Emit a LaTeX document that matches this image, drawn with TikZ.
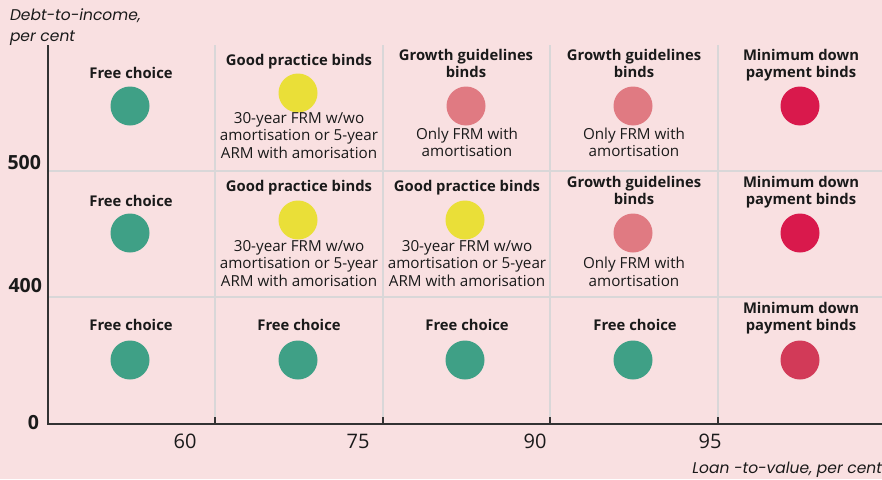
\documentclass[tikz,border=0pt]{standalone}
\usepackage{fontspec}
\setmainfont{Open Sans}
\newfontfamily\titlefont{Poppins}
\begin{document}
\definecolor{bgpink}{HTML}{F9E0E1}
\definecolor{gridgray}{HTML}{D9D7D8}
\definecolor{axisgray}{HTML}{333333}
\definecolor{txt}{HTML}{1A1A1A}
\definecolor{cgreen}{HTML}{3FA086}
\definecolor{cyellow}{HTML}{EADF38}
\definecolor{csalmon}{HTML}{E07A82}
\definecolor{ccrimson}{HTML}{D9194C}
\definecolor{cdeep}{HTML}{D23A58}
\begin{tikzpicture}[x=1pt,y=-1pt,
  every node/.style={inner sep=0pt,outer sep=0pt,text=txt},
  head/.style={anchor=base,align=center,font=\fontsize{14.8}{17}\selectfont\bfseries},
  body/.style={anchor=base,align=center,font=\fontsize{15.2}{17.5}\selectfont},
  dot/.style={circle,minimum size=39pt},
  gridline/.style={gridgray,line width=1.3pt},
  axisline/.style={axisgray,line width=2.6pt},
  tick/.style={axisgray,line width=2.2pt},
  ticklab/.style={anchor=base,font=\fontsize{20}{22}\selectfont},
  ylab/.style={anchor=base east,font=\fontsize{19.5}{22}\selectfont\bfseries},
  axtitle/.style={font=\titlefont\fontsize{15.5}{17}\selectfont\itshape}]
% background and frame of the picture
\fill[bgpink] (0,0) rectangle (882,479);
\useasboundingbox (0,0) rectangle (882,479);

% grid
\foreach \gx in {215,383,550,718}
  \draw[gridline] (\gx,45) -- (\gx,423);
\foreach \gy in {171,297}
  \draw[gridline] (49,\gy) -- (882,\gy);

% axes
\coordinate (ytop) at (48,45);
\coordinate (orig) at (48,424);
\coordinate (xend) at (882,424);
\draw[axisline] (ytop) -- (orig) -- (xend);
\foreach \gx in {215,383,550,718}
  \draw[tick] (\gx,424) -- (\gx,417);

% tick labels
\node[ticklab] (x60) at (185,448) {60};
\node[ticklab] (x75) at (358,448) {75};
\node[ticklab] (x90) at (535,448) {90};
\node[ticklab] (x95) at (710,448) {95};
\node[ylab] (y500) at (41,169) {500};
\node[ylab] (y400) at (42,292) {400};
\node[ylab] (y0) at (39,429) {0};

% axis titles
\node[axtitle,anchor=base west] (ytitle1) at (10,20) {Debt-to-income,};
\node[axtitle,anchor=base west] (ytitle2) at (10,41.5) {per cent};
\node[axtitle,anchor=base east] (xtitle) at (882,473) {Loan -to-value, per cent};

% multi-line nodes are placed by the baseline of their last line
% ---- top row (DTI above 500) ----
\node[head] (h11) at (131,78) {Free choice};
\node[dot,fill=cgreen] (d11) at (130,106) {};
\node[head] (h12) at (299,65) {Good practice binds};
\node[dot,fill=cyellow] (d12) at (298,93) {};
\node[body] (b12) at (299,158) {30-year FRM w/wo\\amortisation or 5-year\\ARM with amorisation};
\node[head] (h13) at (466,77) {Growth guidelines\\binds};
\node[dot,fill=csalmon] (d13) at (466,106) {};
\node[body] (b13) at (467,156.5) {Only FRM with\\amortisation};
\node[head] (h14) at (634,77) {Growth guidelines\\binds};
\node[dot,fill=csalmon] (d14) at (633,106) {};
\node[body] (b14) at (634,156.5) {Only FRM with\\amortisation};
\node[head] (h15) at (801,77) {Minimum down\\payment binds};
\node[dot,fill=ccrimson] (d15) at (800,106) {};

% ---- middle row (DTI 400-500) ----
\node[head] (h21) at (131,206.5) {Free choice};
\node[dot,fill=cgreen] (d21) at (130,233) {};
\node[head] (h22) at (299,191.5) {Good practice binds};
\node[dot,fill=cyellow] (d22) at (298,220) {};
\node[body] (b22) at (299,286) {30-year FRM w/wo\\amortisation or 5-year\\ARM with amorisation};
\node[head] (h23) at (467,191.5) {Good practice binds};
\node[dot,fill=cyellow] (d23) at (465,220) {};
\node[body] (b23) at (467,286) {30-year FRM w/wo\\amortisation or 5-year\\ARM with amorisation};
\node[head] (h24) at (634,204) {Growth guidelines\\binds};
\node[dot,fill=csalmon] (d24) at (633,233) {};
\node[body] (b24) at (634,286) {Only FRM with\\amortisation};
\node[head] (h25) at (801,204) {Minimum down\\payment binds};
\node[dot,fill=ccrimson] (d25) at (800,233) {};

% ---- bottom row (DTI below 400) ----
\node[head] (h31) at (131,330.5) {Free choice};
\node[dot,fill=cgreen] (d31) at (130,360) {};
\node[head] (h32) at (299,330.5) {Free choice};
\node[dot,fill=cgreen] (d32) at (298,360) {};
\node[head] (h33) at (467,330.5) {Free choice};
\node[dot,fill=cgreen] (d33) at (465,360) {};
\node[head] (h34) at (635,330.5) {Free choice};
\node[dot,fill=cgreen] (d34) at (633,360) {};
\node[head] (h35) at (801,330.5) {Minimum down\\payment binds};
\node[dot,fill=cdeep] (d35) at (800,360) {};
\end{tikzpicture}
\end{document}
